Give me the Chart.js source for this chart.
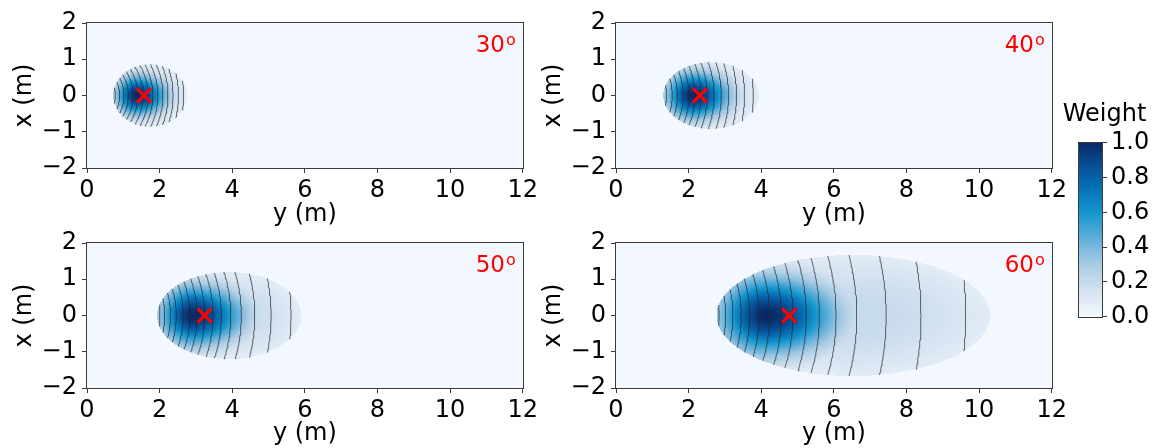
<!DOCTYPE html>
<html>
<head>
<meta charset="utf-8">
<script src="https://cdn.jsdelivr.net/npm/chart.js@4.4.1/dist/chart.umd.min.js"></script>
<style>
  body { margin: 0; background: #fff; width: 1153px; height: 448px; overflow: hidden; position: relative; }
  canvas { position: absolute; }
</style>
</head>
<body>
<canvas id="p0"></canvas>
<canvas id="p1"></canvas>
<canvas id="p2"></canvas>
<canvas id="p3"></canvas>
<canvas id="cbar"></canvas>
<script>
// view angle of each panel
const angleLabels = ['30', '40', '50', '60'];

// footprint ellipse along y (start / end) and half width across x, in metres
const footprintStart = [0.72, 1.30, 1.93, 2.77];
const footprintEnd = [2.75, 3.93, 5.90, 10.30];
const footprintHalfWidth = [0.86, 0.92, 1.20, 1.67];

// where the weight peaks and how fast it falls off (behind, in front, sideways)
const peakY = [1.38, 2.12, 2.92, 4.14];
const spreadBack = [0.40, 0.50, 0.62, 0.90];
const spreadFront = [0.58, 0.72, 0.98, 1.35];
const spreadSide = [0.38, 0.45, 0.58, 0.75];

// red cross position along y
const markerY = [1.57, 2.31, 3.24, 4.77];

// range contour lines (distance from origin)
const contours30 = [0.78, 0.90, 1.02, 1.14, 1.27, 1.40, 1.54, 1.68, 1.81, 1.95, 2.09, 2.23, 2.37, 2.52, 2.66];
const contours40 = [1.39, 1.55, 1.69, 1.85, 2.01, 2.17, 2.34, 2.51, 2.70, 2.90, 3.10, 3.32, 3.54, 3.78];
const contours50 = [2.01, 2.14, 2.30, 2.46, 2.65, 2.83, 3.03, 3.24, 3.47, 3.70, 3.96, 4.25, 4.62, 5.07, 5.62];
const contours60 = [2.84, 3.02, 3.22, 3.45, 3.68, 3.94, 4.23, 4.55, 4.87, 5.24, 5.60, 6.06, 6.63, 7.44, 8.40, 9.63];
const contourSets = [contours30, contours40, contours50, contours60];

// tick labels
const xTicks = [0, 2, 4, 6, 8, 10, 12];
const yTicks = [-2, -1, 0, 1, 2];
const weightTicks = [0, 0.2, 0.4, 0.6, 0.8, 1.0];

// colour map (white -> light blue -> cyan -> navy)
const cmapStops = [0, 0.15, 0.3, 0.45, 0.6, 0.75, 0.9, 1];
const cmapColors = [
    [242, 248, 254], [212, 226, 240], [168, 203, 228], [95, 175, 218],
    [20, 150, 205], [5, 110, 180], [8, 70, 140], [8, 40, 100]
];

// layout of the panels
const panelLeft = [0, 529, 0, 529];
const panelTop = [0, 0, 220, 220];
const panelHeight = [229, 229, 228, 228];
const xAxisHeight = [61, 61, 60, 60];
const axisColor = '#3c3c3c';
const fontSize = 24;

Chart.defaults.font.family = "'DejaVu Sans'";
Chart.defaults.color = '#000';

function colormap(v) {
    v = Math.min(1, Math.max(0, v));
    for (let k = 1; k < cmapStops.length; k++) {
        if (v <= cmapStops[k]) {
            const t = (v - cmapStops[k - 1]) / (cmapStops[k] - cmapStops[k - 1]);
            const a = cmapColors[k - 1], b = cmapColors[k];
            return [a[0] + (b[0] - a[0]) * t, a[1] + (b[1] - a[1]) * t, a[2] + (b[2] - a[2]) * t];
        }
    }
    return cmapColors[cmapColors.length - 1];
}

function ellipseValue(i, gx, gy) {
    const cy = (footprintStart[i] + footprintEnd[i]) / 2;
    const a = (footprintEnd[i] - footprintStart[i]) / 2;
    const b = footprintHalfWidth[i];
    return ((gy - cy) / a) ** 2 + (gx / b) ** 2;
}

function weightAt(i, gx, gy) {
    const e = ellipseValue(i, gx, gy);
    if (e > 1) return 0;
    const d = gy - peakY[i];
    const s = d < 0 ? spreadBack[i] : spreadFront[i];
    const core = Math.exp(-0.5 * (d / s) ** 2 - 0.5 * (gx / spreadSide[i]) ** 2);
    return Math.max(core, 0.08 + 0.12 * (1 - e));
}

// arc of constant distance r, kept inside the footprint
function arcPoints(i, r) {
    const inside = gx => ellipseValue(i, gx, Math.sqrt(Math.max(r * r - gx * gx, 0))) <= 1;
    if (!inside(0)) return [];
    let lo = 0, hi = Math.min(r, footprintHalfWidth[i]);
    if (inside(hi)) {
        lo = hi;
    } else {
        for (let k = 0; k < 40; k++) {
            const mid = (lo + hi) / 2;
            if (inside(mid)) lo = mid; else hi = mid;
        }
    }
    const pts = [];
    for (let k = 0; k <= 40; k++) {
        const gx = -lo + 2 * lo * k / 40;
        pts.push({x: Math.sqrt(r * r - gx * gx), y: gx});
    }
    return pts;
}

const heatmapPlugin = {
    id: 'heatmap',
    beforeDatasetsDraw(chart, args, opts) {
        const {ctx, chartArea, scales} = chart;
        const left = Math.round(chartArea.left), top = Math.round(chartArea.top);
        const w = Math.round(chartArea.right) - left, h = Math.round(chartArea.bottom) - top;
        const img = ctx.createImageData(w, h);
        for (let r = 0; r < h; r++) {
            const gx = scales.y.getValueForPixel(top + r + 0.5);
            for (let c = 0; c < w; c++) {
                const gy = scales.x.getValueForPixel(left + c + 0.5);
                const col = colormap(weightAt(opts.panel, gx, gy));
                const k = (r * w + c) * 4;
                img.data[k] = col[0];
                img.data[k + 1] = col[1];
                img.data[k + 2] = col[2];
                img.data[k + 3] = 255;
            }
        }
        ctx.putImageData(img, left, top);
    }
};

const framePlugin = {
    id: 'frame',
    afterDraw(chart, args, opts) {
        const {ctx, chartArea} = chart;
        ctx.save();
        ctx.strokeStyle = axisColor;
        ctx.lineWidth = 1;
        ctx.strokeRect(Math.round(chartArea.left) - 0.5, Math.round(chartArea.top) - 0.5,
            Math.round(chartArea.right - chartArea.left) + 1, Math.round(chartArea.bottom - chartArea.top) + 1);
        if (opts.label) {
            const right = chartArea.right - 7;
            ctx.fillStyle = '#ff0000';
            ctx.textAlign = 'right';
            ctx.textBaseline = 'alphabetic';
            ctx.font = "16px 'DejaVu Sans'";
            const ow = ctx.measureText('o').width;
            ctx.fillText('o', right, chartArea.top + 22);
            ctx.font = "23px 'DejaVu Sans'";
            ctx.fillText(opts.label, right - ow - 1, chartArea.top + 29);
        }
        ctx.restore();
    }
};

function minusSign(v) {
    return v < 0 ? '\u2212' + Math.abs(v) : String(v);
}

for (let i = 0; i < 4; i++) {
    const canvas = document.getElementById('p' + i);
    canvas.width = 541;
    canvas.height = panelHeight[i];
    canvas.style.left = panelLeft[i] + 'px';
    canvas.style.top = panelTop[i] + 'px';

    const datasets = [{
        data: [{x: markerY[i], y: 0}],
        pointStyle: 'crossRot',
        pointRadius: 10,
        borderColor: '#ff0000',
        borderWidth: 3
    }];
    contourSets[i].forEach(r => {
        datasets.push({
            data: arcPoints(i, r),
            showLine: true,
            pointRadius: 0,
            borderColor: 'rgba(40, 40, 40, 0.7)',
            borderWidth: 1
        });
    });

    new Chart(canvas, {
        type: 'scatter',
        data: {datasets: datasets},
        plugins: [heatmapPlugin, framePlugin],
        options: {
            responsive: false,
            animation: false,
            devicePixelRatio: 1,
            events: [],
            layout: {padding: {top: 23, right: 17, left: 0, bottom: 0}},
            plugins: {
                legend: {display: false},
                tooltip: {enabled: false},
                heatmap: {panel: i},
                frame: {label: angleLabels[i]}
            },
            scales: {
                x: {
                    type: 'linear', min: 0, max: 12,
                    afterBuildTicks: s => { s.ticks = xTicks.map(value => ({value})); },
                    afterFit: s => { s.height = xAxisHeight[i]; },
                    grid: {drawOnChartArea: false, tickLength: 5, color: axisColor},
                    border: {display: false},
                    ticks: {font: {size: fontSize}, padding: 3, maxRotation: 0, autoSkip: false, callback: minusSign},
                    title: {display: true, text: 'y (m)', font: {size: fontSize}, padding: {top: 0, bottom: 0}}
                },
                y: {
                    type: 'linear', min: -2, max: 2,
                    afterBuildTicks: s => { s.ticks = yTicks.map(value => ({value})); },
                    afterFit: s => { s.width = 87; },
                    grid: {drawOnChartArea: false, tickLength: 5, color: axisColor},
                    border: {display: false},
                    ticks: {font: {size: fontSize}, padding: 5, autoSkip: false, callback: minusSign},
                    title: {display: true, text: 'x (m)', font: {size: fontSize}, padding: {top: 10, bottom: 0}}
                }
            }
        }
    });
}

// colour bar
const gradientPlugin = {
    id: 'gradient',
    beforeDatasetsDraw(chart) {
        const {ctx, chartArea} = chart;
        const g = ctx.createLinearGradient(0, chartArea.bottom, 0, chartArea.top);
        cmapStops.forEach((s, k) => {
            const c = cmapColors[k];
            g.addColorStop(s, 'rgb(' + c[0] + ',' + c[1] + ',' + c[2] + ')');
        });
        ctx.fillStyle = g;
        ctx.fillRect(chartArea.left, chartArea.top, chartArea.right - chartArea.left, chartArea.bottom - chartArea.top);
    }
};

const cb = document.getElementById('cbar');
cb.width = 97;
cb.height = 240;
cb.style.left = '1056px';
cb.style.top = '95px';
new Chart(cb, {
    type: 'scatter',
    data: {datasets: []},
    plugins: [gradientPlugin, framePlugin],
    options: {
        responsive: false,
        animation: false,
        devicePixelRatio: 1,
        events: [],
        layout: {padding: {top: 0, bottom: 14, left: 0, right: 0}},
        plugins: {
            legend: {display: false},
            tooltip: {enabled: false},
            title: {display: true, text: 'Weight', font: {size: fontSize, weight: 'normal'}, color: '#000', padding: {top: 5, bottom: 14}},
            frame: {}
        },
        scales: {
            x: {type: 'linear', min: 0, max: 1, display: false},
            pad: {
                axis: 'y', position: 'left', min: 0, max: 1,
                afterFit: s => { s.width = 23; },
                grid: {display: false}, border: {display: false}, ticks: {display: false}
            },
            y: {
                type: 'linear', position: 'right', min: 0, max: 1,
                afterBuildTicks: s => { s.ticks = weightTicks.map(value => ({value})); },
                afterFit: s => { s.width = 51; },
                grid: {drawOnChartArea: false, tickLength: 5, color: axisColor},
                border: {display: false},
                ticks: {font: {size: fontSize}, padding: 4, autoSkip: false, callback: v => v.toFixed(1)}
            }
        }
    }
});
</script>
</body>
</html>
